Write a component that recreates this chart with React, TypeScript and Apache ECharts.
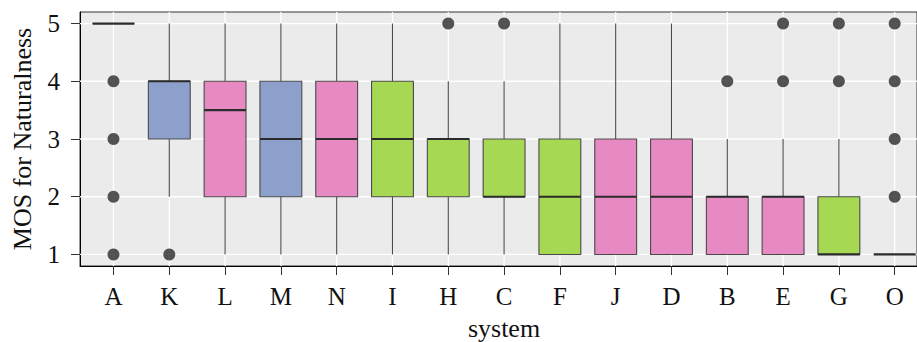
import React, { useEffect, useRef } from 'react';
import * as echarts from 'echarts';

// ---- data ----
const systems = ['A', 'K', 'L', 'M', 'N', 'I', 'H', 'C', 'F', 'J', 'D', 'B', 'E', 'G', 'O'];
const lowWhisker = [5, 2, 1, 1, 1, 1, 1, 1, 1, 1, 1, 1, 1, 1, 1];
const q1 = [5, 3, 2, 2, 2, 2, 2, 2, 1, 1, 1, 1, 1, 1, 1];
const median = [5, 4, 3.5, 3, 3, 3, 3, 2, 2, 2, 2, 2, 2, 1, 1];
const q3 = [5, 4, 4, 4, 4, 4, 3, 3, 3, 3, 3, 2, 2, 2, 1];
const highWhisker = [5, 5, 5, 5, 5, 5, 4, 4, 5, 5, 5, 3, 3, 3, 1];
const systemGroup = ['group1', 'group1', 'group2', 'group1', 'group2', 'group3', 'group3', 'group3', 'group3', 'group2', 'group2', 'group2', 'group2', 'group3', 'group3'];
const outlierSystem = ['A', 'A', 'A', 'A', 'K', 'H', 'C', 'B', 'E', 'E', 'G', 'G', 'O', 'O', 'O', 'O'];
const outlierValue = [1, 2, 3, 4, 1, 5, 5, 4, 4, 5, 4, 5, 2, 3, 4, 5];
const yTicks = [1, 2, 3, 4, 5];

const groupNames = ['group1', 'group2', 'group3'];
const groupColors: Record<string, string> = {
  group1: '#8DA0CB',
  group2: '#E78AC3',
  group3: '#A6D854',
};

const FONT = '"Liberation Serif", "DejaVu Serif", serif';

export default function App() {
  const ref = useRef<HTMLDivElement>(null);
  useEffect(() => {
    const chart = echarts.init(ref.current as HTMLDivElement, null, { renderer: 'svg' });
    const xIdx = systems.map((_, i) => i);
    const boxData = systems.map((_, i) => [i, lowWhisker[i], q1[i], median[i], q3[i], highWhisker[i], groupNames.indexOf(systemGroup[i])]);
    const outData = outlierSystem.map((s, k) => [systems.indexOf(s), outlierValue[k]]);

    const option: any = {
      animation: false,
      grid: {
        left: 80,
        right: 0,
        top: 12,
        bottom: 76,
        show: true,
        backgroundColor: '#EBEBEB',
        borderColor: '#333',
        borderWidth: 1,
      },
      xAxis: {
        type: 'value',
        min: -0.6,
        max: 14.4,
        splitLine: { show: false },
        axisLine: { show: true, onZero: false, lineStyle: { color: '#000', width: 1 } },
        axisTick: { show: true, customValues: xIdx, length: 9, lineStyle: { color: '#333' } },
        axisLabel: {
          customValues: xIdx,
          formatter: (v: number) => systems[Math.round(v)] ?? '',
          fontFamily: FONT,
          fontSize: 25,
          color: '#111',
          margin: 18,
        },
      },
      yAxis: {
        type: 'value',
        min: 0.8,
        max: 5.2,
        splitLine: { show: false },
        axisLine: { show: true, onZero: false, lineStyle: { color: '#000', width: 1 } },
        axisTick: { show: true, customValues: yTicks, length: 9, lineStyle: { color: '#333' } },
        axisLabel: {
          customValues: yTicks,
          fontFamily: FONT,
          fontSize: 25,
          color: '#111',
          margin: 20,
        },
      },
      graphic: [
        {
          type: 'text',
          x: 22,
          y: 139,
          rotation: Math.PI / 2,
          style: {
            text: 'MOS for Naturalness',
            font: `26px ${FONT}`,
            fill: '#111',
            textAlign: 'center',
            textVerticalAlign: 'middle',
          },
        },
        {
          type: 'text',
          x: 504,
          y: 328,
          style: {
            text: 'system',
            font: `26px ${FONT}`,
            fill: '#111',
            textAlign: 'center',
            textVerticalAlign: 'middle',
          },
        },
      ],
      series: [
        {
          type: 'custom',
          z: 1,
          silent: true,
          data: xIdx.map((i) => [i, 1]),
          encode: { x: 0, y: 1 },
          renderItem: (params: any, api: any) => {
            const cs = params.coordSys;
            const x = api.coord([api.value(0), 1])[0];
            return {
              type: 'line',
              shape: { x1: x, y1: cs.y, x2: x, y2: cs.y + cs.height },
              style: { stroke: '#FFFFFF', lineWidth: 1.3 },
            };
          },
        },
        {
          type: 'custom',
          z: 1,
          silent: true,
          data: yTicks.map((v) => [0, v]),
          encode: { x: 0, y: 1 },
          renderItem: (params: any, api: any) => {
            const cs = params.coordSys;
            const y = api.coord([0, api.value(1)])[1];
            return {
              type: 'line',
              shape: { x1: cs.x, y1: y, x2: cs.x + cs.width, y2: y },
              style: { stroke: '#FFFFFF', lineWidth: 1.3 },
            };
          },
        },
        {
          type: 'custom',
          z: 2,
          data: boxData,
          encode: { x: 0, y: [1, 2, 3, 4, 5] },
          renderItem: (params: any, api: any) => {
            const xv = api.value(0);
            const lo = api.coord([xv, api.value(1)]);
            const b1 = api.coord([xv, api.value(2)]);
            const md = api.coord([xv, api.value(3)]);
            const b3 = api.coord([xv, api.value(4)]);
            const hi = api.coord([xv, api.value(5)]);
            const w = api.size([0.75, 0])[0];
            const fill = groupColors[groupNames[api.value(6)]];
            const cx = lo[0];
            const children: any[] = [];
            if (lo[1] !== b1[1]) {
              children.push({ type: 'line', shape: { x1: cx, y1: lo[1], x2: cx, y2: b1[1] }, style: { stroke: '#4a4a4a', lineWidth: 1.1 } });
            }
            if (hi[1] !== b3[1]) {
              children.push({ type: 'line', shape: { x1: cx, y1: b3[1], x2: cx, y2: hi[1] }, style: { stroke: '#4a4a4a', lineWidth: 1.1 } });
            }
            children.push({
              type: 'rect',
              shape: { x: cx - w / 2, y: b3[1], width: w, height: b1[1] - b3[1] },
              style: { fill, stroke: '#4a4a4a', lineWidth: 1.1 },
            });
            children.push({
              type: 'line',
              shape: { x1: cx - w / 2, y1: md[1], x2: cx + w / 2, y2: md[1] },
              style: { stroke: '#2b2b2b', lineWidth: 2.2 },
            });
            return { type: 'group', children };
          },
        },
        {
          type: 'scatter',
          z: 3,
          data: outData,
          symbolSize: 12,
          itemStyle: { color: '#2b2b2b' },
        },
      ],
    };
    chart.setOption(option);
    return () => chart.dispose();
  }, []);
  return <div ref={ref} style={{ position: 'absolute', left: 0, top: 0, width: 917, height: 342 }} />;
}
